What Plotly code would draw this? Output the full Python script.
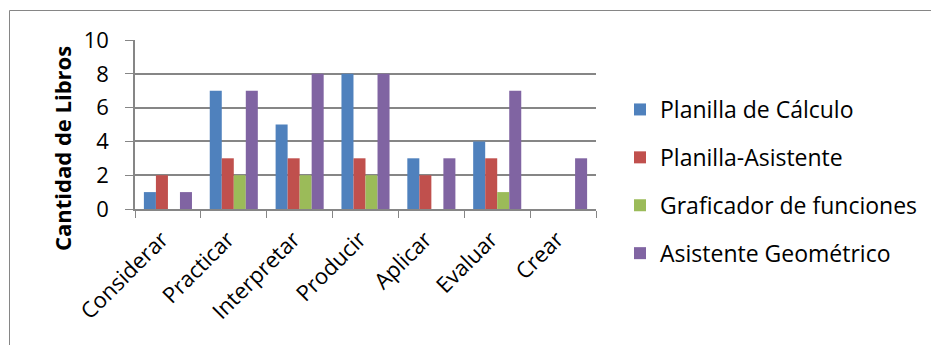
import plotly.graph_objects as go

categories = ["Considerar", "Practicar", "Interpretar", "Producir", "Aplicar", "Evaluar", "Crear"]
series_names = ["Planilla de Cálculo", "Planilla-Asistente", "Graficador de funciones", "Asistente Geométrico"]
planilla_calculo = [1, 7, 5, 8, 3, 4, 0]
planilla_asistente = [2, 3, 3, 3, 2, 3, 0]
graficador = [0, 2, 2, 2, 0, 1, 0]
asistente_geo = [1, 7, 8, 8, 3, 7, 3]
colors = ["#4F81BD", "#C0504D", "#9BBB59", "#8064A2"]
y_ticks = [0, 2, 4, 6, 8, 10]

W, H = 931, 345
L, R, T, B = 135, 335, 40, 136
pw, ph = W - L - R, H - T - B

FONT = "Open Sans"
fig = go.Figure()
for i, (name, vals) in enumerate(zip(series_names, [planilla_calculo, planilla_asistente, graficador, asistente_geo])):
    fig.add_trace(go.Bar(x=categories, y=vals, name=name, marker_color=colors[i],
                         marker_line_width=0, legendgroup=f"g{i}"))

def px_to_paper_x(px):
    return (px - L) / pw

def px_to_paper_y(py):
    return (H - B - py) / ph

fig.add_shape(type="rect", xref="paper", yref="paper",
              x0=px_to_paper_x(9.5), x1=px_to_paper_x(940), y0=px_to_paper_y(360), y1=px_to_paper_y(10.5),
              line=dict(color="#868686", width=1), fillcolor="rgba(0,0,0,0)", layer="below")

fig.add_annotation(text="<b>Cantidad de Libros</b>", textangle=-90, showarrow=False,
                   xref="paper", yref="paper", x=px_to_paper_x(62), y=px_to_paper_y(149),
                   xanchor="center", yanchor="middle", font=dict(size=22, family=FONT, color="black"))

fig.update_layout(
    width=W, height=H,
    margin=dict(l=L, r=R, t=T, b=B, autoexpand=False),
    paper_bgcolor="white", plot_bgcolor="white",
    barmode="group", bargap=0.27, bargroupgap=0,
    font=dict(family=FONT, size=22, color="black"),
    showlegend=True,
    legend=dict(x=px_to_paper_x(620), y=1 - 88 / H, yref="container", xanchor="left", yanchor="top",
                font=dict(size=23), traceorder="grouped", tracegroupgap=15, maxheight=330,
                itemwidth=30, bgcolor="rgba(0,0,0,0)"),
    xaxis=dict(showline=True, linecolor="#868686", linewidth=1.5, ticks="outside", ticklen=7,
               tickcolor="#868686", tickson="boundaries", tickangle=-45, tickfont=dict(size=22),
               ticklabelstandoff=7, ticklabelshift=-6,
               showgrid=False, fixedrange=True),
    yaxis=dict(range=[0, 10], tickvals=y_ticks, showline=True, linecolor="#868686", linewidth=1.5,
               ticks="outside", ticklen=8, tickcolor="#868686", gridcolor="#868686", gridwidth=1.5,
               tickfont=dict(size=22), ticklabelstandoff=12, zeroline=False,
               fixedrange=True),
)
fig.write_html("out.html")
